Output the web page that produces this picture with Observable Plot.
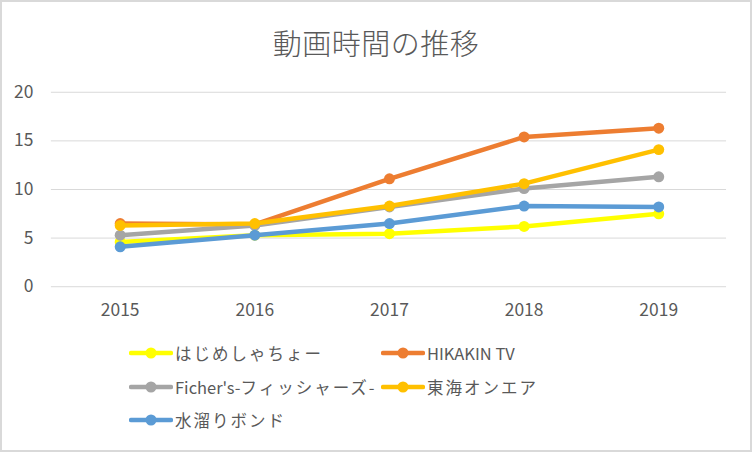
<!DOCTYPE html>
<html>
<head>
<meta charset="utf-8">
<script src="https://cdn.jsdelivr.net/npm/d3@7"></script>
<script src="https://cdn.jsdelivr.net/npm/@observablehq/plot@0.6"></script>
<style>
  html, body { margin: 0; padding: 0; background: #fff; }
  #frame { position: relative; width: 752px; height: 452px; box-sizing: border-box; border: 2px solid #d9d9d9; overflow: hidden; font-family: "Noto Sans CJK JP", "Open Sans", sans-serif; color: #595959; }
  #title { position: absolute; left: 0; top: 20px; width: 748px; text-align: center; font-size: 29px; font-weight: 300; line-height: 40px; color: #595959; letter-spacing: 0.5px; }
  #chart { position: absolute; left: -2px; top: -2px; }
  .leg { position: absolute; display: flex; align-items: center; font-size: 16.5px; color: #595959; white-space: nowrap; }
  .leg svg { margin-right: 2px; }
  .cjk { letter-spacing: 2px; }
</style>
</head>
<body>
<div id="frame">
  <div id="title">動画時間の推移</div>
  <div id="chart"></div>
</div>
<script>
const years = ["2015", "2016", "2017", "2018", "2019"];
const seriesNames = ["はじめしゃちょー", "HIKAKIN TV", "Ficher's-フィッシャーズ-", "東海オンエア", "水溜りボンド"];
const hajime     = [4.6, 5.3, 5.45, 6.2, 7.5];
const hikakin    = [6.5, 6.4, 11.1, 15.4, 16.3];
const fischers   = [5.3, 6.3, 8.2, 10.1, 11.3];
const tokai      = [6.3, 6.5, 8.3, 10.6, 14.1];
const mizutamari = [4.1, 5.3, 6.5, 8.3, 8.2];
const seriesColors = ["#FFFF00", "#ED7D31", "#A5A5A5", "#FFC000", "#5B9BD5"];
const yTicks = [0, 5, 10, 15, 20];

const seriesValues = [hajime, hikakin, fischers, tokai, mizutamari];
const rows = seriesNames.flatMap((name, i) =>
  years.map((year, j) => ({ series: name, year, value: seriesValues[i][j] })));

const marks = [
  Plot.gridY(yTicks, { stroke: "#d9d9d9", strokeOpacity: 1, strokeWidth: 1 }),
  Plot.axisY(yTicks, { tickSize: 0, tickPadding: 18, fontSize: 17.5, fill: "#595959", label: null }),
  Plot.axisX(years, { tickSize: 0, tickPadding: 17, fontSize: 17.5, fill: "#595959", label: null })
];
seriesNames.forEach((name, i) => {
  const d = rows.filter(r => r.series === name);
  marks.push(Plot.line(d, { x: "year", y: "value", stroke: seriesColors[i], strokeWidth: 4.5, strokeLinejoin: "round", strokeLinecap: "round" }));
  marks.push(Plot.dot(d, { x: "year", y: "value", fill: seriesColors[i], r: 5.5 }));
});

const plot = Plot.plot({
  width: 752,
  height: 330,
  marginLeft: 51,
  marginRight: 24,
  marginTop: 92,
  marginBottom: 43,
  x: { type: "point", domain: years, padding: 0.5 },
  y: { domain: [0, 20] },
  style: { fontFamily: "'Noto Sans CJK JP', 'Open Sans', sans-serif", background: "transparent", overflow: "visible" },
  marks
});
document.getElementById("chart").appendChild(plot);

// Legend
const frame = document.getElementById("frame");
const legPos = [[129, 353], [381, 353], [129, 387], [381, 387], [129, 420]];
const wrapCjk = s => s.replace(/([^\x00-\x7F]+)/g, '<span class="cjk">$1</span>');
seriesNames.forEach((name, i) => {
  const el = document.createElement("div");
  el.className = "leg";
  el.style.left = (legPos[i][0] - 2) + "px";
  el.style.top = (legPos[i][1] - 2 - 12) + "px";
  el.style.height = "24px";
  el.innerHTML = `<svg width="44" height="12"><line x1="2" y1="6" x2="42" y2="6" stroke="${seriesColors[i]}" stroke-width="4.5" stroke-linecap="round"/><circle cx="22" cy="6" r="5.5" fill="${seriesColors[i]}"/></svg><span>${wrapCjk(name)}</span>`;
  frame.appendChild(el);
});
</script>
</body>
</html>
